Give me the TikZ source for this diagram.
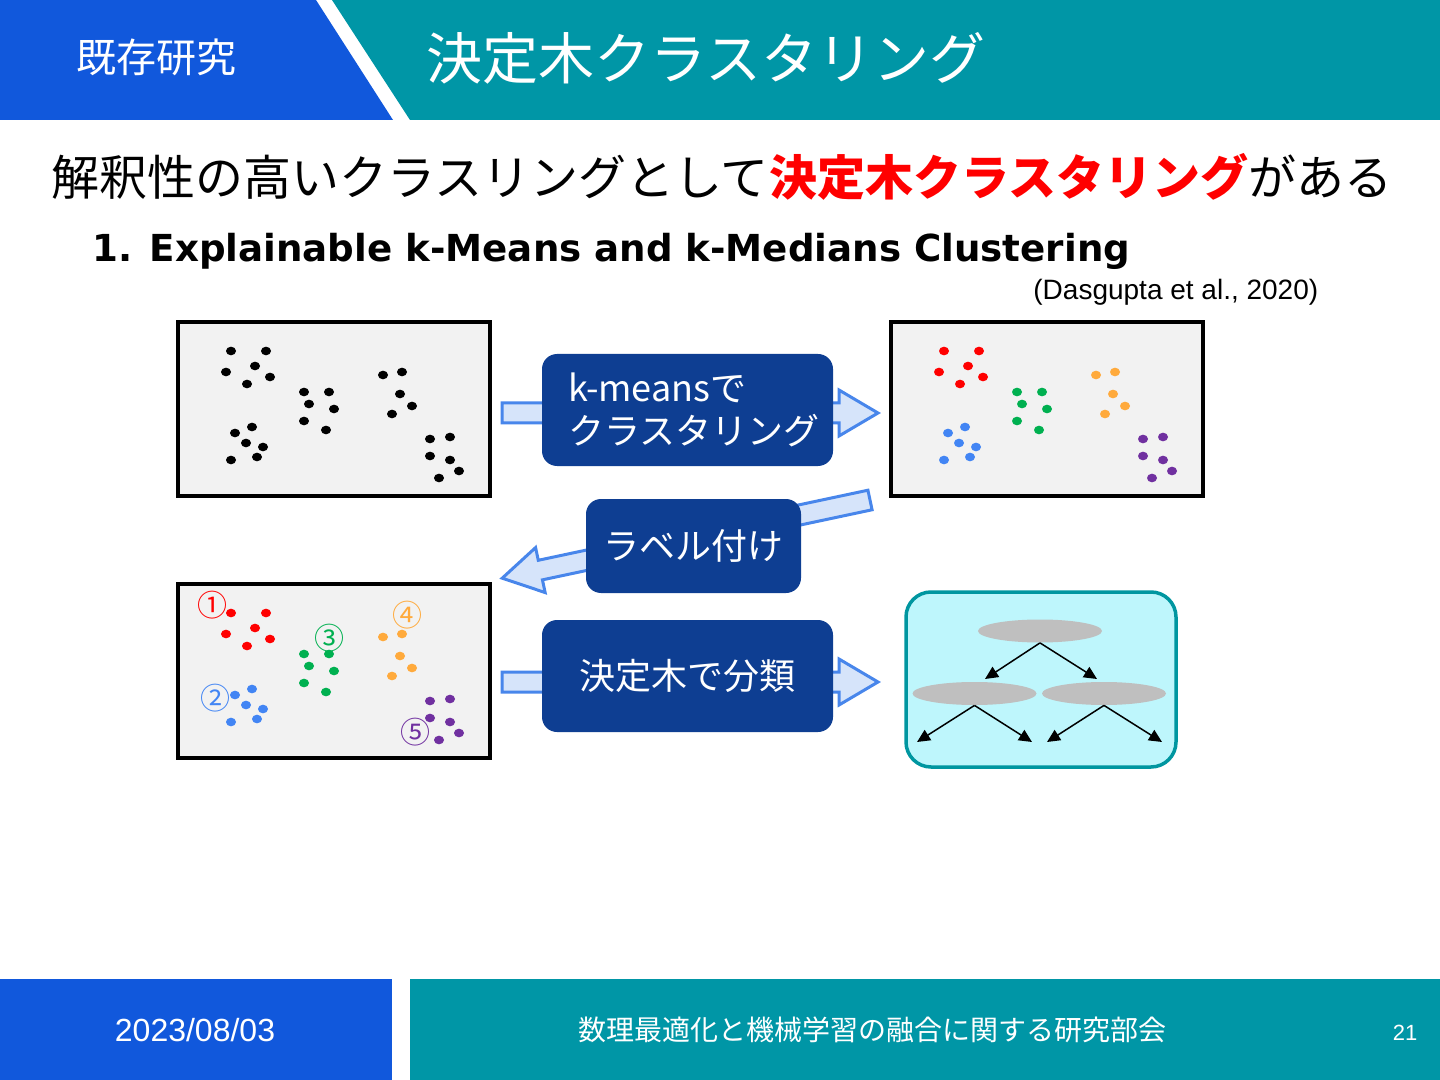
\documentclass[tikz,border=0pt]{standalone}
\usepackage{fontspec}
\setmainfont{Noto Sans CJK JP}
\newfontfamily\verd{DejaVu Sans}
\newfontfamily\arial{Liberation Sans}
\usetikzlibrary{arrows.meta,positioning,calc,shapes.geometric}

\definecolor{hdrblue}{RGB}{17,88,220}
\definecolor{hdrteal}{RGB}{0,150,166}
\definecolor{stepblue}{RGB}{14,62,146}
\definecolor{arrfill}{RGB}{214,228,250}
\definecolor{arrline}{RGB}{72,134,235}
\definecolor{boxgray}{RGB}{242,242,242}
\definecolor{treefill}{RGB}{190,246,252}
\definecolor{treeline}{RGB}{0,150,160}
\definecolor{leafgray}{RGB}{191,191,191}
\definecolor{cred}{RGB}{255,0,0}
\definecolor{cgreen}{RGB}{0,176,80}
\definecolor{cblue}{RGB}{66,133,244}
\definecolor{corange}{RGB}{255,170,60}
\definecolor{cpurple}{RGB}{112,48,160}

\newcommand\fsz[1]{\fontsize{#1pt}{#1pt}\selectfont}

\begin{document}
\begin{tikzpicture}[x=0.5pt, y=-0.5pt,
    panel/.style={draw, line width=2pt, fill=boxgray, minimum width=156pt, minimum height=87pt, inner sep=0},
    stepbox/.style={fill=stepblue, rounded corners=7.5pt, text=white, font=\fsz{18}, inner sep=0, align=left},
    leaf/.style={ellipse, fill=leafgray, minimum width=62pt, minimum height=11.5pt, inner sep=0},
    branch/.style={-{Triangle[length=6.5pt, width=6pt]}, line width=0.75pt},
    hdrtxt/.style={text=white, inner sep=0},
    fatarrow/.pic={\draw[fill=arrfill, draw=arrline, line width=1.5pt, line join=miter]
      (0,-10) -- (337,-10) -- (337,-23) -- (376,0) -- (337,23) -- (337,10) -- (0,10) -- cycle;}
  ]
  \useasboundingbox (0,0) rectangle (1440,1080);

  % header
  \fill[hdrblue] (0,0) -- (316,0) -- (393,120) -- (0,120) -- cycle;
  \fill[hdrteal] (332,0) -- (1440,0) -- (1440,120) -- (410,120) -- cycle;
  \node[hdrtxt, font=\fsz{20}] (sec) at (156,57) {既存研究};
  \node[hdrtxt, font=\fsz{28}, anchor=west] (ttl) at (426,58) {決定木クラスタリング};

  \node[anchor=west, inner sep=0, font=\fsz{24}] (lead) at (51,177)
    {解釈性の高いクラスリングとして{\color{cred}\bfseries 決定木クラスタリング}がある};
  \node[anchor=base west, inner sep=0, font={\verd\bfseries\fsz{18.6}}] (paper) at (92,262)
    {1. Explainable k-Means and k-Medians Clustering};
  \node[anchor=base west, inner sep=0, font={\arial\fsz{14}}] (cite) at (1033,300)
    {(Dasgupta et al., 2020)};

  % point sets
  \node[panel] (raw) at (334,409) {};
  \node[panel, right=198.5pt of raw] (km) {};
  \node[panel, below=42pt of raw] (lab) {};

  \foreach \bx/\ca/\cb/\cc/\cd/\ce in {raw/black/black/black/black/black,
      km/cred/cblue/cgreen/corange/cpurple, lab/cred/cblue/cgreen/corange/cpurple}{
    \foreach \cl/\pts in {
        \ca/{-103/-58,-68/-58,-79/-43,-108/-37,-64/-32,-87/-25},
        \cb/{-82/18,-99/24,-88/34,-71/38,-103/51,-77/48},
        \cc/{-30/-17,-5/-17,-25/-5,0/0,-30/12,-8/21},
        \cd/{49/-34,68/-37,66/-15,78/-3,58/5},
        \ce/{96/30,116/28,96/47,116/51,125/62,105/69}}
      \foreach \dx/\dy in \pts
        \fill[fill=\cl] ($(\bx)+(\dx,\dy)$) ellipse (5 and 4.3);
  }

  \foreach \i/\n/\cl/\dx/\dy in {1/①/cred/-122/-66, 2/②/cblue/-119/27.5, 3/③/cgreen/-5/-33,
      4/④/corange/73/-55.5, 5/⑤/cpurple/81/61.5}
    \node[text=\cl, font=\fsz{15}, inner sep=0] (tag\i) at ($(lab)+(\dx,\dy)$) {\n};

  % decision tree
  \node[draw=treeline, fill=treefill, line width=1.75pt, rounded corners=12.5pt,
    minimum width=135pt, minimum height=87.5pt] (tree) at (1041,679.5) {};
  \node[leaf] (root) at (1040,631) {};
  \node[leaf] (lft) at (974.5,693.5) {};
  \node[leaf] (rgt) at (1104,693.5) {};
  \coordinate (e1) at (985,679);
  \coordinate (e2) at (1097,679);
  \coordinate (e3) at (917,742);
  \coordinate (e4) at (1032,742);
  \coordinate (e5) at (1047,742);
  \coordinate (e6) at (1162,742);
  \draw[branch] (root.south) -- (e1);
  \draw[branch] (root.south) -- (e2);
  \draw[branch] (lft.south) -- (e3);
  \draw[branch] (lft.south) -- (e4);
  \draw[branch] (rgt.south) -- (e5);
  \draw[branch] (rgt.south) -- (e6);

  % steps
  \pic at (502,413) {fatarrow};
  \pic at (502,682) {fatarrow};
  \pic[rotate=192] at (870,500) {fatarrow};

  \node[stepbox, minimum width=145.5pt, minimum height=56pt, text width=119.5pt,
    font={\fontsize{18pt}{21.5pt}\selectfont}] (kmstep) at (687.5,410) {k-meansで\\クラスタリング};
  \node[stepbox, minimum width=107.5pt, minimum height=47pt] (labstep) at (693.5,546) {ラベル付け};
  \node[stepbox, minimum width=145.5pt, minimum height=56pt] (clfstep) at (687.5,676) {決定木で分類};

  % footer
  \fill[hdrblue] (0,979) rectangle (392,1080);
  \fill[hdrteal] (410,979) rectangle (1440,1080);
  \node[hdrtxt, font={\arial\fsz{16}}] (date) at (195,1030) {2023/08/03};
  \node[hdrtxt, font=\fsz{14}] (venue) at (872,1030) {数理最適化と機械学習の融合に関する研究部会};
  \node[hdrtxt, font={\arial\fsz{11}}] (pageno) at (1405,1033) {21};
\end{tikzpicture}
\end{document}
